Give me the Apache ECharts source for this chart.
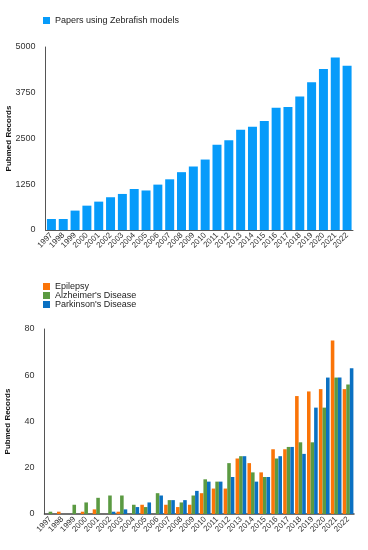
<!DOCTYPE html>
<html>
<head>
<meta charset="utf-8">
<script src="https://cdn.jsdelivr.net/npm/echarts@6/dist/echarts.min.js"></script>
<style>html,body{margin:0;padding:0;background:#fff}#c{width:368px;height:550px}</style>
</head>
<body>
<div id="c"></div>
<script>
const years = ['1997','1998','1999','2000','2001','2002','2003','2004','2005','2006','2007','2008','2009','2010','2011','2012','2013','2014','2015','2016','2017','2018','2019','2020','2021','2022'];
const zebrafish = [300,300,530,665,775,895,985,1120,1080,1240,1385,1580,1735,1925,2330,2450,2740,2820,2980,3340,3360,3650,4040,4400,4710,4485];
const epilepsy  = [0,1,0,1,2,0,1,0,4,0,4,3,4,9,11,11,24,22,18,28,28,51,53,54,75,54];
const alzheimer = [1,0,4,5,7,8,8,4,3,9,6,5,8,15,14,22,25,18,16,24,29,31,31,46,59,56];
const parkinson = [0,0,0,0,0,1,2,3,5,8,6,6,10,14,14,16,25,14,16,25,29,26,46,59,59,63];
const topTicks = [0,1250,2500,3750,5000];
const bottomTicks = [0,20,40,60,80];

const font = 'Liberation Sans, Arial, Helvetica, sans-serif';
const axisLabel = {color:'#333', fontSize:9, fontFamily:font, margin:10, formatter:(v)=>String(v)};
const xLabel = {color:'#333', fontSize:8, fontFamily:font, rotate:45, interval:0, margin:4};
const axisLine = {show:true, lineStyle:{color:'#555', width:1}};
const nameStyle = {color:'#111', fontSize:8, fontWeight:'bold', fontFamily:font};

const chart = echarts.init(document.getElementById('c'), null, {renderer:'canvas'});
chart.setOption({
  animation:false,
  backgroundColor:'#fff',
  legend:[
    {data:['Papers using Zebrafish models'], left:38, top:11, orient:'vertical', icon:'rect', itemWidth:7, itemHeight:7, itemGap:0,
     textStyle:{color:'#222', fontSize:9, fontFamily:font, lineHeight:9}},
    {data:['Epilepsy',"Alzheimer's Disease","Parkinson's Disease"], left:38, top:277, orient:'vertical', icon:'rect', itemWidth:7, itemHeight:7, itemGap:0,
     textStyle:{color:'#222', fontSize:9, fontFamily:font, lineHeight:9}}
  ],
  grid:[
    {left:45.5, right:15, top:47, height:183, containLabel:false, outerBoundsMode:'none'},
    {left:44.5, right:14, top:329, height:185, containLabel:false, outerBoundsMode:'none'}
  ],
  xAxis:[
    {gridIndex:0, type:'category', data:years, axisLine:axisLine, axisTick:{show:false}, axisLabel:xLabel},
    {gridIndex:1, type:'category', data:years, axisLine:{show:true, lineStyle:{color:'#444', width:1.5}}, axisTick:{show:false}, axisLabel:xLabel}
  ],
  yAxis:[
    {gridIndex:0, type:'value', min:topTicks[0], max:topTicks[topTicks.length-1], interval:topTicks[1]-topTicks[0],
     splitLine:{show:false}, axisLine:axisLine, axisTick:{show:false}, axisLabel:axisLabel,
     name:'Pubmed Records', nameLocation:'middle', nameGap:33, nameMoveOverlap:false, nameTextStyle:nameStyle},
    {gridIndex:1, type:'value', min:bottomTicks[0], max:bottomTicks[bottomTicks.length-1], interval:bottomTicks[1]-bottomTicks[0],
     splitLine:{show:false}, axisLine:axisLine, axisTick:{show:false}, axisLabel:axisLabel,
     name:'Pubmed Records', nameLocation:'middle', nameGap:33, nameMoveOverlap:false, nameTextStyle:nameStyle}
  ],
  series:[
    {name:'Papers using Zebrafish models', type:'bar', xAxisIndex:0, yAxisIndex:0, data:zebrafish, barCategoryGap:'24%',
     itemStyle:{color:'#069bfa'}},
    {name:'Epilepsy', type:'bar', xAxisIndex:1, yAxisIndex:1, data:epilepsy, barGap:'0%', barCategoryGap:'10%', itemStyle:{color:'#fa7408'}},
    {name:"Alzheimer's Disease", type:'bar', xAxisIndex:1, yAxisIndex:1, data:alzheimer, barGap:'0%', barCategoryGap:'10%', itemStyle:{color:'#5b9a42'}},
    {name:"Parkinson's Disease", type:'bar', xAxisIndex:1, yAxisIndex:1, data:parkinson, barGap:'0%', barCategoryGap:'10%', itemStyle:{color:'#0a70c2'}}
  ]
});
</script>
</body>
</html>
